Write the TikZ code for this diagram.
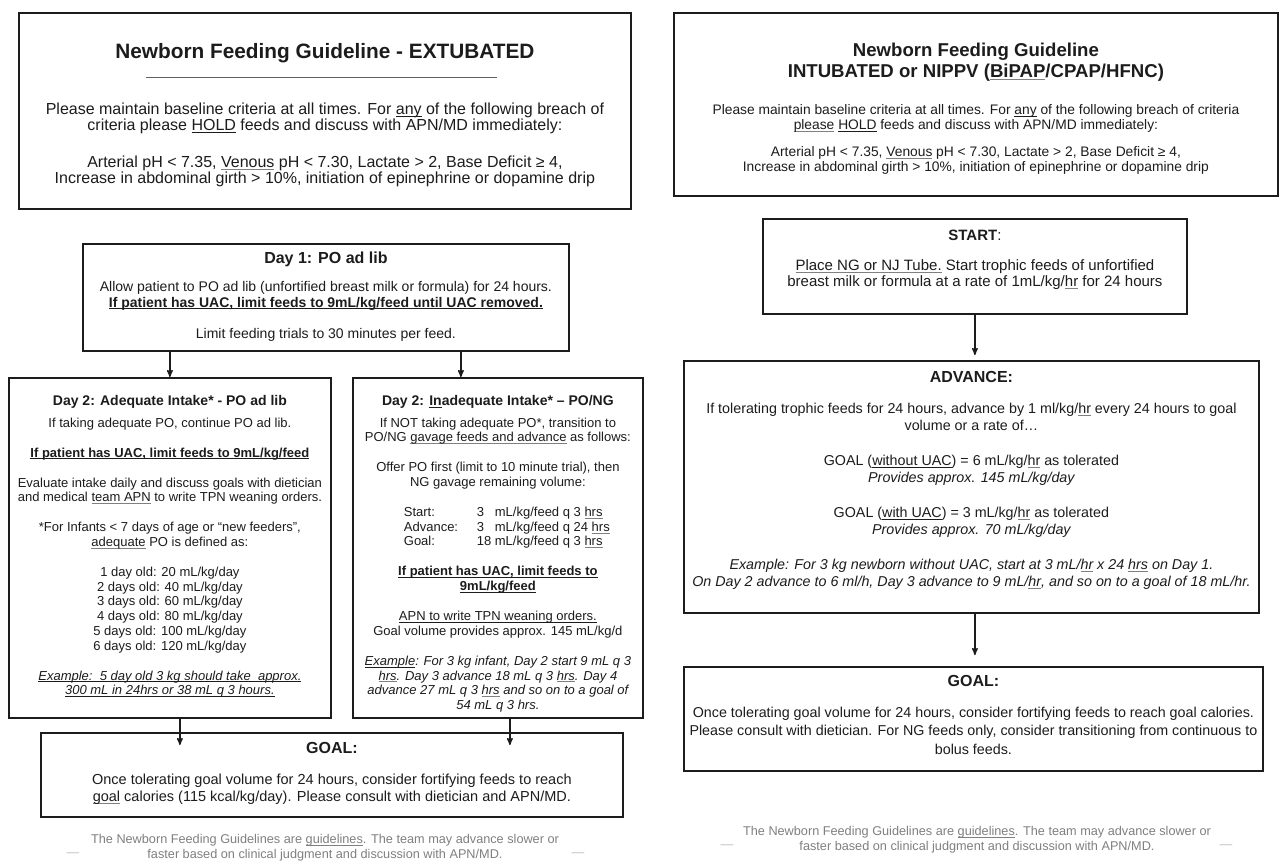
\documentclass[tikz,border=0pt]{standalone}
\usepackage{fontspec}
\setmainfont{Liberation Sans}
\usepackage{tikz}
\usetikzlibrary{arrows,positioning,calc}

\definecolor{ink}{HTML}{1C1C1C}
\definecolor{note}{HTML}{808080}

\newcommand{\setfs}[2]{\fontsize{#1}{#2}\selectfont}
\newcommand{\panelbody}[4]{\parbox[c][#2][t]{#1}{\centering\vspace*{#3}#4}}
\newcommand{\uln}[1]{\leavevmode{\setbox0\hbox{#1}\rlap{\rule[-0.15em]{\wd0}{0.06em}}\box0}}
\newcommand{\squig}[1]{\leavevmode{\setbox0\hbox{#1}\rlap{\color{note}\rule[-0.15em]{\wd0}{0.05em}}\box0}}
\newcommand{\rateline}[3]{\hspace*{19pt}\makebox[207pt][l]{\makebox[73pt][l]{#1}\makebox[18pt][l]{#2}#3}}

\tikzset{
>=stealth',
  panel/.style={
    rectangle,
    draw=ink, line width=1.8pt,
    inner sep=0pt,
    anchor=north west,
    text=ink},
  line/.style={draw=ink, line width=1.4pt, ->},
  footnote/.style={text=note, align=center, font=\setfs{12.7}{15}},
  footdash/.style={text=black!25, font=\setfs{12.7}{15}},
}

\begin{document}
\begin{tikzpicture}[x=1pt, y=-1pt]
  \useasboundingbox[fill=white] (0,0) rectangle (1280,861);
  % EXTUBATED side
  \node[panel] (hdrL) at (18,12) {\panelbody{612pt}{196pt}{30.9pt}{%
    {\setfs{20.8}{24}\bfseries Newborn Feeding Guideline - EXTUBATED\par}
    \vspace{38.8pt}
    {\setfs{16}{15.5}Please maintain baseline criteria at all times. For \uln{any} of the following breach of\\
     criteria please \uln{HOLD} feeds and discuss with APN/MD immediately:\par}
    \vspace{22pt}
    {\setfs{16}{15.5}Arterial pH < 7.35, \squig{Venous} pH < 7.30, Lactate > 2, Base Deficit ≥ 4,\\
     Increase in abdominal girth > 10\%, initiation of epinephrine or dopamine drip\par}}};
  \draw[ink!70, line width=0.9pt] ($(hdrL.north west)+(128,65)$) -- ++(351,0);
  \node[panel] (day1) at (82,243) {\panelbody{486pt}{107pt}{7.8pt}{%
    {\setfs{16}{19}\bfseries Day 1: PO ad lib\par}
    \vspace{12.9pt}
    {\setfs{14}{15.5}Allow patient to PO ad lib (unfortified breast milk or formula) for 24 hours.\\
     \bfseries\uln{If patient has UAC, limit feeds to 9mL/kg/feed until UAC removed.}\par}
    \vspace{16pt}
    {\setfs{14}{15.5}Limit feeding trials to 30 minutes per feed.\par}}};
  \node[panel] (adeq) at (8,377) {\panelbody{322pt}{340pt}{17.5pt}{%
    {\setfs{14}{17}\bfseries Day 2: Adequate Intake* - PO ad lib\par}
    \vspace{6.9pt}
    {\setfs{13}{14.7}If taking adequate PO, continue PO ad lib.\par}
    \vspace{15.3pt}
    {\setfs{13}{14.7}\bfseries\uln{If patient has UAC, limit feeds to 9mL/kg/feed}\par}
    \vspace{15.3pt}
    {\setfs{13}{14.7}Evaluate intake daily and discuss goals with dietician\\
     and medical \squig{team APN} to write TPN weaning orders.\par}
    \vspace{15.3pt}
    {\setfs{13}{14.7}*For Infants < 7 days of age or “new feeders”,\\
     \squig{adequate} PO is defined as:\par}
    \vspace{15.3pt}
    {\setfs{13}{14.7}1 day old: 20 mL/kg/day\\ 2 days old: 40 mL/kg/day\\ 3 days old: 60 mL/kg/day\\
     4 days old: 80 mL/kg/day\\ 5 days old: 100 mL/kg/day\\ 6 days old: 120 mL/kg/day\par}
    \vspace{15.3pt}
    {\setfs{13}{14.7}\itshape\uln{Example:\ \ 5 day old 3 kg should take\ \ approx.}\\
     \uln{300 mL in 24hrs or 38 mL q 3 hours.}\par}}};
  \node[panel] (inadeq) at (352,377) {\panelbody{290pt}{340pt}{17.5pt}{%
    {\setfs{14}{17}\bfseries Day 2: \uln{In}adequate Intake* – PO/NG\par}
    \vspace{6.9pt}
    {\setfs{13}{14.7}If NOT taking adequate PO*, transition to\\
     PO/NG \squig{gavage feeds and advance} as follows:\par}
    \vspace{15.3pt}
    {\setfs{13}{14.7}Offer PO first (limit to 10 minute trial), then\\
     NG gavage remaining volume:\par}
    \vspace{15.3pt}
    {\setfs{13}{14.7}\rateline{Start:}{3}{mL/kg/feed q 3 \squig{hrs}}\\
     \rateline{Advance:}{3}{mL/kg/feed q 24 \squig{hrs}}\\
     \rateline{Goal:}{18}{mL/kg/feed q 3 \squig{hrs}}\par}
    \vspace{15.3pt}
    {\setfs{13}{14.7}\bfseries\uln{If patient has UAC, limit feeds to}\\
     \uln{9mL/kg/feed}\par}
    \vspace{15.3pt}
    {\setfs{13}{14.7}\uln{APN to write TPN weaning orders.}\\
     Goal volume provides approx. 145 mL/kg/d\par}
    \vspace{15.3pt}
    {\setfs{13}{14.7}\itshape\uln{Example}: For 3 kg infant, Day 2 start 9 mL q 3\\
     \squig{hrs}. Day 3 advance 18 mL q 3 \squig{hrs}. Day 4\\
     advance 27 mL q 3 \squig{hrs} and so on to a goal of\\
     54 mL q 3 hrs.\par}}};
  \node[panel] (goalL) at (40,732) {\panelbody{582pt}{84pt}{9.8pt}{%
    {\setfs{16}{19}\bfseries GOAL:\par}
    \vspace{13.4pt}
    {\setfs{14.5}{17}Once tolerating goal volume for 24 hours, consider fortifying feeds to reach\\
     \squig{goal} calories (115 kcal/kg/day). Please consult with dietician and APN/MD.\par}}};
  \node[footnote] (footL) at (325,848) {The Newborn Feeding Guidelines are \uln{guidelines}. The team may advance slower or\\
    faster based on clinical judgment and discussion with APN/MD.};
  \node[footdash] (dashLa) at (73,855) {—};
  \node[footdash] (dashLb) at (578,855) {—};

  % INTUBATED side
  \node[panel] (hdrR) at (673,12) {\panelbody{604pt}{183pt}{29.7pt}{%
    {\setfs{18.6}{21}\bfseries Newborn Feeding Guideline\\
     INTUBATED or NIPPV (\squig{BiPAP}/CPAP/HFNC)\par}
    \vspace{21.9pt}
    {\setfs{13.8}{15.5}Please maintain baseline criteria at all times. For \uln{any} of the following breach of criteria\\
     \squig{please} \uln{HOLD} feeds and discuss with APN/MD immediately:\par}
    \vspace{11pt}
    {\setfs{13.8}{15.5}Arterial pH < 7.35, \squig{Venous} pH < 7.30, Lactate > 2, Base Deficit ≥ 4,\\
     Increase in abdominal girth > 10\%, initiation of epinephrine or dopamine drip\par}}};
  \node[panel] (start) at (762,218) {\panelbody{424pt}{95pt}{11.2pt}{%
    {\setfs{15}{17}\bfseries START\mdseries:\par}
    \vspace{14.2pt}
    {\setfs{15}{16}\squig{Place NG or NJ Tube.} Start trophic feeds of unfortified\\
     breast milk or formula at a rate of 1mL/kg/\squig{hr} for 24 hours\par}}};
  \node[panel] (adv) at (683,360) {\panelbody{575pt}{252pt}{10.8pt}{%
    {\setfs{16}{19}\bfseries ADVANCE:\par}
    \vspace{13.1pt}
    {\setfs{14.3}{17.5}If tolerating trophic feeds for 24 hours, advance by 1 ml/kg/\squig{hr} every 24 hours to goal\\
     volume or a rate of…\par}
    \vspace{17pt}
    {\setfs{14.3}{17.5}GOAL (\uln{without UAC}) = 6 mL/kg/\squig{hr} as tolerated\\
     \itshape Provides approx. 145 mL/kg/day\par}
    \vspace{17pt}
    {\setfs{14.3}{17.5}GOAL (\uln{with UAC}) = 3 mL/kg/\squig{hr} as tolerated\\
     \itshape Provides approx. 70 mL/kg/day\par}
    \vspace{17pt}
    {\setfs{14.3}{17.5}\itshape Example: For 3 kg newborn without UAC, start at 3 mL/\squig{hr} x 24 \squig{hrs} on Day 1.\\
     On Day 2 advance to 6 ml/h, Day 3 advance to 9 mL/\squig{hr}, and so on to a goal of 18 mL/hr.\par}}};
  \node[panel] (goalR) at (683,666) {\panelbody{579pt}{104pt}{8.8pt}{%
    {\setfs{16}{19}\bfseries GOAL:\par}
    \vspace{12.1pt}
    {\setfs{14.3}{18.5}Once tolerating goal volume for 24 hours, consider fortifying feeds to reach goal calories.\\
     Please consult with dietician. For NG feeds only, consider transitioning from continuous to\\
     bolus feeds.\par}}};
  \node[footnote] (footR) at (977,840) {The Newborn Feeding Guidelines are \uln{guidelines}. The team may advance slower or\\
    faster based on clinical judgment and discussion with APN/MD.};
  \node[footdash] (dashRa) at (727,847) {—};
  \node[footdash] (dashRb) at (1226,847) {—};

  %% connectors
  \draw[line] (adeq.north |- day1.south) -- (adeq.north);
  \draw[line] ([xshift=-37pt]inadeq.north |- day1.south) -- ([xshift=-37pt]inadeq.north);
  \draw[line, shorten >=-13pt] ([xshift=10pt]adeq.south) -- ([xshift=10pt]adeq.south |- goalL.north);
  \draw[line, shorten >=-13pt] ([xshift=12pt]inadeq.south) -- ([xshift=12pt]inadeq.south |- goalL.north);
  \draw[line, shorten >=5pt] (start.south) -- (start.south |- adv.north);
  \draw[line, shorten >=11pt] (start.south |- adv.south) -- (start.south |- goalR.north);
\end{tikzpicture}
\end{document}
